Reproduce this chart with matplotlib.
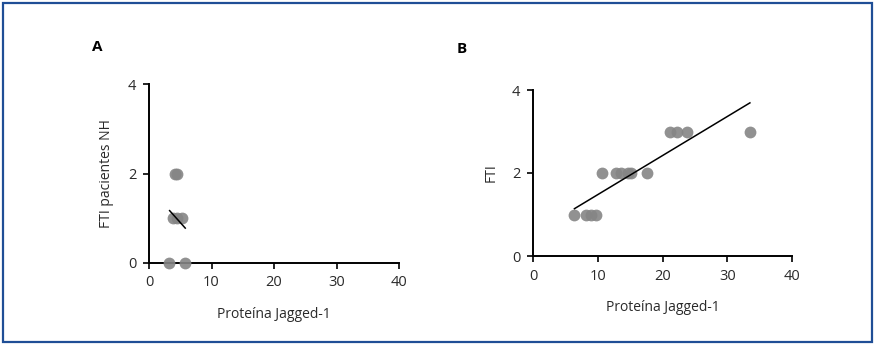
import matplotlib
matplotlib.use("Agg")
import matplotlib.pyplot as plt
from matplotlib.patches import Rectangle

plt.rcParams['font.family'] = ['Open Sans', 'DejaVu Sans']

# Panel A data
a_x = [3.2, 5.8, 3.8, 4.5, 5.3, 4.1, 4.4]
a_y = [0, 0, 1, 1, 1, 2, 2]
a_line_x = [3.3, 5.8]
a_line_y = [1.17, 0.78]

# Panel B data
b_x = [6.3, 8.2, 9.0, 9.8, 10.6, 12.8, 13.6, 14.6, 15.2, 17.6, 21.1, 22.3, 23.8, 33.5]
b_y = [1, 1, 1, 1, 2, 2, 2, 2, 2, 2, 3, 3, 3, 3]
b_line_x = [6.4, 33.5]
b_line_y = [1.14, 3.69]

xticks = [0, 10, 20, 30, 40]
yticks = [0, 2, 4]
xlabel = "Proteína Jagged-1"
a_ylabel = "FTI pacientes NH"
b_ylabel = "FTI"

W, H = 874, 344
fig = plt.figure(figsize=(W / 100, H / 100), dpi=100)

def px_axes(x0, x1, y_top, y_bot):
    return fig.add_axes([x0 / W, 1 - y_bot / H, (x1 - x0) / W, (y_bot - y_top) / H])

text_color = '#2a2a2a'

def style(ax, xs, ys, lx, ly, ylabel):
    ax.plot(xs, ys, 'o', color='#858585', markersize=8.5, markeredgewidth=0,
            alpha=0.9, clip_on=False, zorder=3)
    ax.plot(lx, ly, color='black', linewidth=1.1, zorder=4)
    ax.set_xlim(0, 40)
    ax.set_ylim(0, 4)
    ax.set_xticks(xticks)
    ax.set_yticks(yticks)
    for s in ['top', 'right']:
        ax.spines[s].set_visible(False)
    for s in ['left', 'bottom']:
        ax.spines[s].set_linewidth(1.4)
        ax.spines[s].set_color('black')
    ax.tick_params(direction='out', length=4, width=1.2, colors='black',
                   labelcolor=text_color, labelsize=10.5, pad=5)
    ax.set_xlabel(xlabel, fontsize=10, color=text_color, labelpad=12)
    ax.set_ylabel(ylabel, fontsize=10, color=text_color, labelpad=10)
    ax.patch.set_alpha(0)

axA = px_axes(149, 399, 84, 263)
style(axA, a_x, a_y, a_line_x, a_line_y, a_ylabel)
axB = px_axes(533, 792, 90, 256)
style(axB, b_x, b_y, b_line_x, b_line_y, b_ylabel)

fig.text(97 / W, 1 - 47 / H, "A", fontsize=11, fontweight='bold', color='black',
         ha='center', va='center')
fig.text(462 / W, 1 - 49 / H, "B", fontsize=11, fontweight='bold', color='black',
         ha='center', va='center')

fig.patches.append(Rectangle((2.5 / W, 2.5 / H), (W - 5) / W, (H - 5) / H,
                             transform=fig.transFigure, fill=False,
                             edgecolor='#1f4e96', linewidth=1.6))

fig.savefig("out.png", dpi=100)
